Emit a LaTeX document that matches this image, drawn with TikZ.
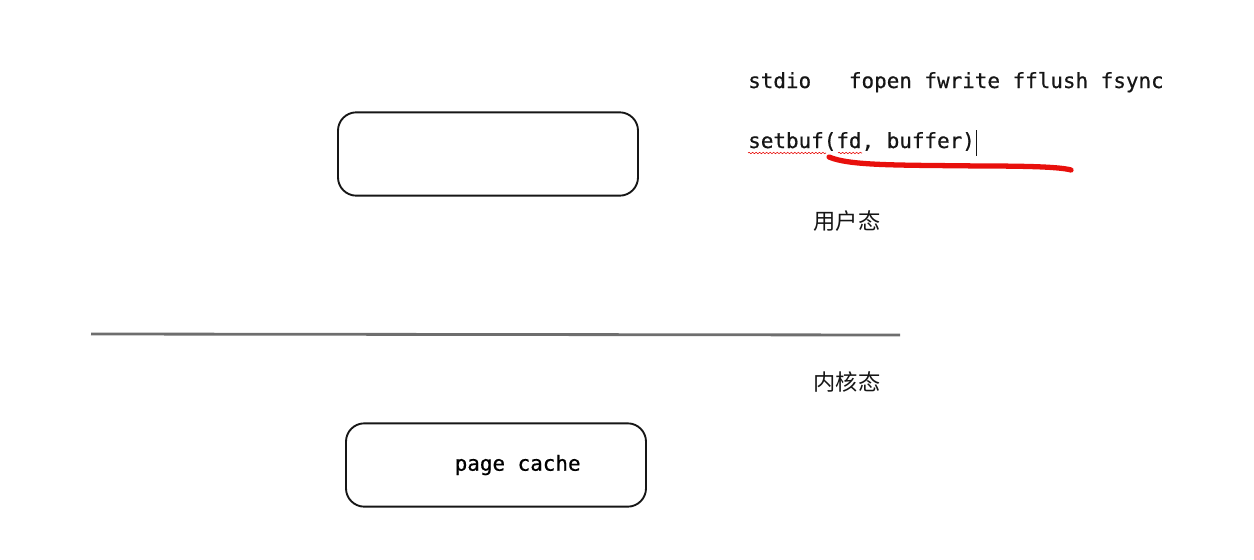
\documentclass[tikz,border=0pt]{standalone}
\usepackage{fontspec}
\newfontfamily\codefont[FakeBold=0.6]{DejaVu Sans Mono}
\newfontfamily\cjk{Noto Sans CJK SC}
\usetikzlibrary{decorations.pathmorphing,positioning}
\definecolor{Ink}{HTML}{161616}
\definecolor{RuleGray}{HTML}{6E6E6E}
\definecolor{MarkRed}{HTML}{E8100C}

\begin{document}
\begin{tikzpicture}[x=0.03cm, y=-0.03cm,
    roundbox/.style={draw=Ink,line width=1.6pt,rounded corners=0.55cm,minimum width=9cm,minimum height=2.5cm,inner sep=0pt,font=\codefont\fontsize{17.85}{20}\selectfont},
    codetext/.style={anchor=base west,inner sep=0pt,font=\codefont\fontsize{17.85}{20}\selectfont,text=Ink},
    cntext/.style={inner sep=0pt,font=\cjk\fontsize{19}{21}\selectfont,text=Ink},
    spellmark/.style={MarkRed,line width=0.5pt,decorate,decoration={snake,amplitude=0.6pt,segment length=3pt}}]
    \useasboundingbox (0,0) rectangle (1254,560);
    % boxes
    \node[roundbox] (userbuf) at (488,154) {};
    \node[roundbox] (pagecache) at (496,465) {\hspace*{1.3cm}page cache};
    % user / kernel split
    \coordinate (splitL) at (91,334);
    \coordinate (splitR) at (900,335);
    \draw[RuleGray,line width=2.4pt] (splitL) -- (splitR);
    \node[cntext] (userlbl) at (847,221) {用户态};
    \node[cntext] (kernellbl) at (847,382) {内核态};
    % code notes
    \node[codetext] (stdio) at (748,88) {stdio\ \ \ fopen fwrite fflush fsync};
    \node[codetext] (setbuf) at (748,148) {setbuf(fd, buffer)};
    \draw[Ink,line width=0.4pt] ([xshift=1pt,yshift=-4pt]setbuf.south east) -- ([xshift=1pt,yshift=2pt]setbuf.north east);
    \draw[spellmark] (748,153) -- (826,153);
    \draw[spellmark] (838,153) -- (862,153);
    \draw[MarkRed,line width=4.5pt,line cap=round] (829,157) .. controls (850,166) and (900,165) .. (980,166) .. controls (1030,166) and (1060,167) .. (1071,170);
\end{tikzpicture}
\end{document}
